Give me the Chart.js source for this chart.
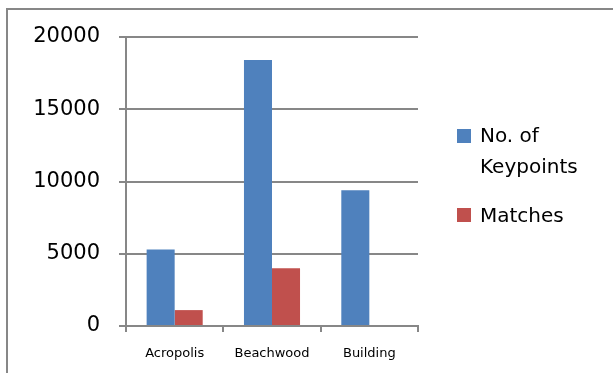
<!DOCTYPE html>
<html>
<head>
<meta charset="utf-8">
<script src="https://cdn.jsdelivr.net/npm/chart.js@4"></script>
<style>
  html, body { margin: 0; padding: 0; background: #fff; overflow: hidden; }
  #wrap { width: 613px; height: 373px; position: relative; }
</style>
</head>
<body>
<div id="wrap"><canvas id="c" width="613" height="373"></canvas></div>
<script>
const categories = ['Acropolis', 'Beachwood', 'Building'];
const keypoints = [5300, 18400, 9400];
const matches = [1100, 4000, 0];
const seriesNames = ['No. of Keypoints', 'Matches'];
const legendLines = [['No. of', 'Keypoints'], ['Matches']];
const yTicks = [0, 5000, 10000, 15000, 20000];

const GRID = '#878787';

// outer frame (left and top edges only, the rest is off-picture) + legend
const framePlugin = {
    id: 'frame',
    beforeDraw(chart) {
        const ctx = chart.ctx;
        ctx.save();
        ctx.strokeStyle = GRID;
        ctx.lineWidth = 2;
        ctx.beginPath();
        ctx.moveTo(7, 373);
        ctx.lineTo(7, 9);
        ctx.lineTo(613, 9);
        ctx.stroke();
        ctx.restore();
    },
    afterDraw(chart) {
        const ctx = chart.ctx;
        ctx.save();
        ctx.font = '20px "DejaVu Sans"';
        ctx.textBaseline = 'middle';
        const rows = [[129, 137], [208, 217]];
        chart.data.datasets.forEach((ds, i) => {
            ctx.fillStyle = ds.backgroundColor;
            ctx.fillRect(457, rows[i][0], 14, 14);
            ctx.fillStyle = '#000';
            legendLines[i].forEach((t, j) => ctx.fillText(t, 480, rows[i][1] + j * 31));
        });
        ctx.restore();
    }
};

new Chart(document.getElementById('c'), {
    type: 'bar',
    data: {
        labels: categories,
        datasets: [
            { label: seriesNames[0], data: keypoints, backgroundColor: '#4F81BD' },
            { label: seriesNames[1], data: matches, backgroundColor: '#C0504D' }
        ]
    },
    options: {
        responsive: false,
        animation: false,
        devicePixelRatio: 1,
        layout: { padding: { left: 0, right: 195, top: 37, bottom: 0 } },
        datasets: { bar: { barPercentage: 1, categoryPercentage: 0.576, borderWidth: 0 } },
        plugins: { legend: { display: false }, tooltip: { enabled: false } },
        scales: {
            x: {
                grid: { drawOnChartArea: false, drawTicks: true, tickLength: 6, color: GRID, lineWidth: 2 },
                border: { color: GRID, width: 2 },
                ticks: { color: '#000', font: { family: 'DejaVu Sans', size: 13 }, padding: 14, maxRotation: 0 },
                afterFit(s) { s.height = 47; }
            },
            y: {
                min: 0, max: 20000,
                afterBuildTicks(s) { s.ticks = yTicks.map(v => ({ value: v })); },
                grid: { color: GRID, lineWidth: 2, tickLength: 7 },
                border: { color: GRID, width: 2 },
                ticks: { color: '#000', font: { family: 'DejaVu Sans', size: 21 }, padding: 19, callback: v => String(v) },
                afterFit(s) { s.width = 126; }
            }
        }
    },
    plugins: [framePlugin]
});
</script>
</body>
</html>
